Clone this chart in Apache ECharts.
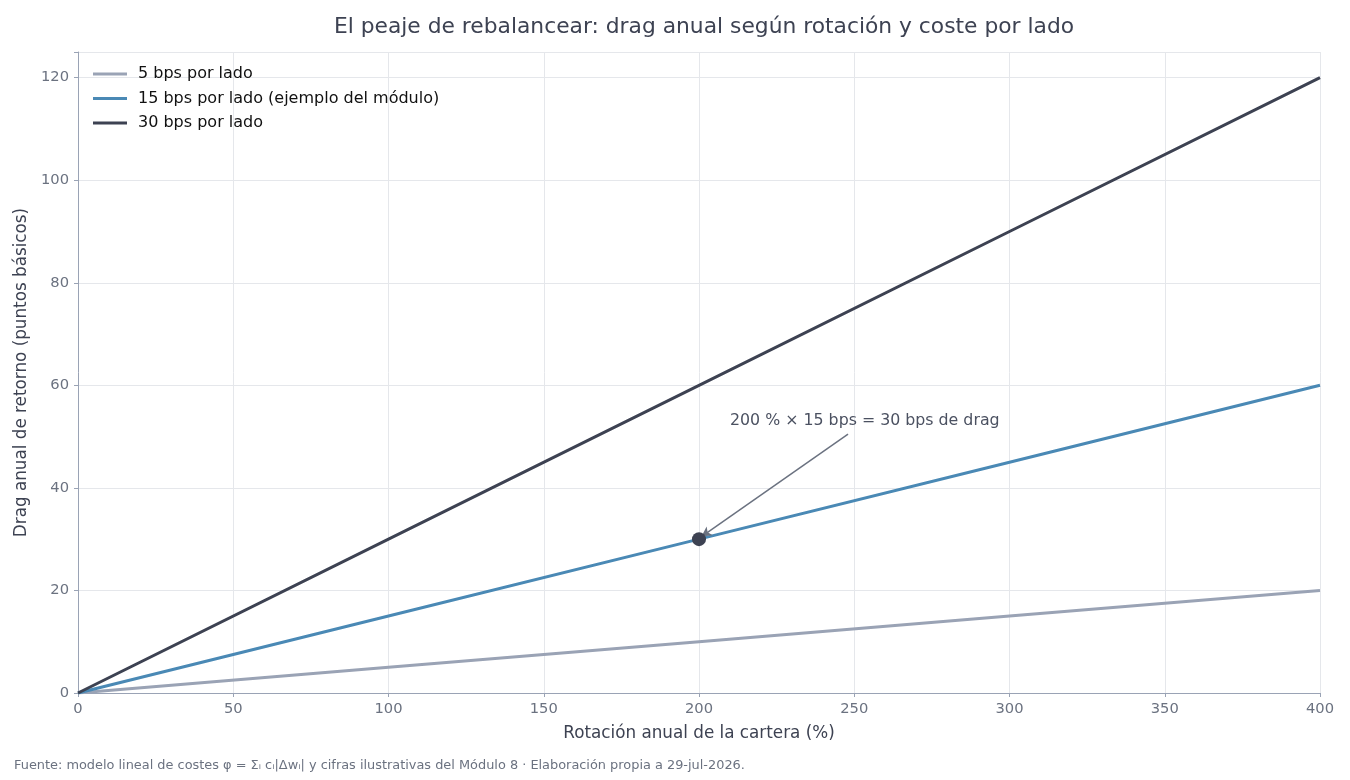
<!DOCTYPE html>
<html>
<head>
<meta charset="utf-8">
<script src="https://cdn.jsdelivr.net/npm/echarts@6/dist/echarts.min.js"></script>
<style>
  html, body { margin: 0; padding: 0; background: #fff; }
  #chart { width: 1350px; height: 780px; }
</style>
</head>
<body>
<div id="chart"></div>
<script>
// rotacion anual de la cartera (%)
let rotation = [0, 100, 200, 300, 400];
// drag anual en puntos basicos, por coste por lado
let drag5 = [0, 5, 10, 15, 20];
let drag15 = [0, 15, 30, 45, 60];
let drag30 = [0, 30, 60, 90, 120];
let seriesNames = ['5 bps por lado', '15 bps por lado (ejemplo del módulo)', '30 bps por lado'];
let xTicks = [0, 50, 100, 150, 200, 250, 300, 350, 400];
let yTicks = [0, 20, 40, 60, 80, 100, 120];
let highlight = [200, 30];
let arrowFrom = [248, 50.5];
let noteText = '200 % × 15 bps = 30 bps de drag';

let font = 'DejaVu Sans';
let textGrey = '#6b7280';
let chart = echarts.init(document.getElementById('chart'));

let pairs = (ys) => rotation.map((x, i) => [x, ys[i]]);

let option = {
  animation: false,
  textStyle: { fontFamily: font },
  title: {
    text: 'El peaje de rebalancear: drag anual según rotación y coste por lado',
    left: 699,
    textAlign: 'center',
    top: 11,
    textStyle: { fontFamily: font, fontSize: 21.8, fontWeight: 'normal', color: '#3d4252' }
  },
  graphic: [{
    type: 'text',
    left: 14,
    top: 759,
    style: {
      text: 'Fuente: modelo lineal de costes φ = Σᵢ cᵢ|Δwᵢ| y cifras ilustrativas del Módulo 8 · Elaboración propia a 29-jul-2026.',
      fontFamily: font,
      fontSize: 12.9,
      fill: textGrey
    }
  }],
  legend: {
    left: 88,
    top: 61,
    orient: 'vertical',
    itemWidth: 34,
    itemHeight: 3,
    itemGap: 8.5,
    icon: 'rect',
    textStyle: { fontFamily: font, fontSize: 16, color: '#111', padding: [0, 0, 0, 6] },
    data: seriesNames
  },
  grid: { left: 78, right: 30, top: 52, bottom: 87, containLabel: false },
  xAxis: {
    type: 'value',
    min: 0,
    max: 400,
    interval: 50,
    name: 'Rotación anual de la cartera (%)',
    nameLocation: 'middle',
    nameGap: 32,
    nameTextStyle: { fontFamily: font, fontSize: 16.8, color: '#3d4252' },
    axisLine: { show: true, lineStyle: { color: '#9aa3b5' } },
    axisTick: { show: true, length: 4, lineStyle: { color: '#9aa3b5' } },
    axisLabel: { fontFamily: font, fontSize: 14.7, color: textGrey, margin: 9,
      customValues: xTicks },
    splitLine: { show: true, lineStyle: { color: '#e5e7eb' } }
  },
  yAxis: {
    type: 'value',
    min: 0,
    max: 125,
    interval: 20,
    name: 'Drag anual de retorno (puntos básicos)',
    nameLocation: 'middle',
    nameGap: 42,
    nameTextStyle: { fontFamily: font, fontSize: 16.8, color: '#3d4252' },
    axisLine: { show: true, lineStyle: { color: '#9aa3b5' } },
    axisTick: { show: true, length: 4, lineStyle: { color: '#9aa3b5' } },
    axisLabel: { fontFamily: font, fontSize: 14.7, color: textGrey, margin: 9,
      formatter: (v) => yTicks.includes(v) ? String(v) : '' },
    splitLine: { show: true, lineStyle: { color: '#e5e7eb' } }
  },
  series: [
    {
      name: seriesNames[0], type: 'line', data: pairs(drag5), showSymbol: false,
      lineStyle: { color: '#9aa3b5', width: 3 }, itemStyle: { color: '#9aa3b5' }, z: 2
    },
    {
      name: seriesNames[1], type: 'line', data: pairs(drag15), showSymbol: false,
      lineStyle: { color: '#4a89b5', width: 3 }, itemStyle: { color: '#4a89b5' }, z: 3,
      markLine: {
        silent: true,
        symbol: ['none', 'arrow'],
        symbolSize: [8, 10],
        label: { show: false },
        lineStyle: { color: '#6b7280', width: 1.5, type: 'solid' },
        data: [[{ coord: arrowFrom }, { coord: [highlight[0] + 0.8, highlight[1] + 0.5] }]]
      },
      markPoint: {
        silent: true,
        data: [
          { coord: highlight, symbol: 'circle', symbolSize: 14,
            itemStyle: { color: '#3d4252' }, label: { show: false } },
          { coord: [arrowFrom[0] + 5.4, arrowFrom[1] + 2.6], symbol: 'circle', symbolSize: 0,
            label: { show: true, position: 'inside', formatter: noteText,
              fontFamily: font, fontSize: 15.8, color: '#4b5161' } }
        ]
      }
    },
    {
      name: seriesNames[2], type: 'line', data: pairs(drag30), showSymbol: false,
      lineStyle: { color: '#3d4252', width: 3 }, itemStyle: { color: '#3d4252' }, z: 4
    }
  ]
};
chart.setOption(option);
</script>
</body>
</html>
